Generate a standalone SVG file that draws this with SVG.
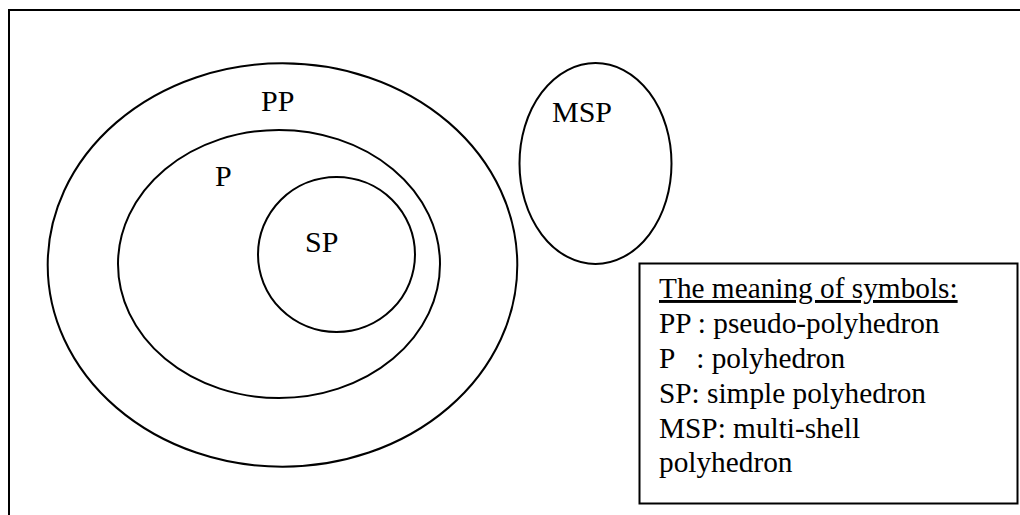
<svg xmlns="http://www.w3.org/2000/svg" width="1020" height="515" viewBox="0 0 1020 515">
  <style>
    .shape { fill: none; stroke: #000; stroke-width: 2; }
    .label { font-family: "Liberation Serif", "Times New Roman", serif; font-size: 30px; fill: #000; }
    .legend { font-family: "Liberation Serif", "Times New Roman", serif; font-size: 29.3px; fill: #000; }
  </style>
  <rect width="1020" height="515" fill="#fff"/>
  <!-- outer frame, running off the right and bottom edges -->
  <path class="shape" d="M9 515 V10 H1020"/>

  <g id="pp">
    <ellipse class="shape" cx="282.5" cy="265" rx="234.8" ry="201.7"/>
    <text class="label" x="261" y="110.5">PP</text>
  </g>
  <g id="p">
    <ellipse class="shape" cx="279" cy="264" rx="161" ry="134"/>
    <text class="label" x="215" y="185.5">P</text>
  </g>
  <g id="sp">
    <ellipse class="shape" cx="336.5" cy="254.5" rx="78.5" ry="77.5"/>
    <text class="label" x="305" y="252">SP</text>
  </g>
  <g id="msp">
    <ellipse class="shape" cx="595.5" cy="163.5" rx="76" ry="100.5"/>
    <text class="label" x="552" y="121.5">MSP</text>
  </g>

  <g id="legend">
    <rect class="shape" x="639.5" y="263.5" width="378" height="240"/>
    <text class="legend" x="659" y="298" text-decoration="underline">The meaning of symbols:</text>
    <text class="legend" x="659" y="333">PP : pseudo-polyhedron</text>
    <text class="legend" x="659" y="368" xml:space="preserve">P   : polyhedron</text>
    <text class="legend" x="659" y="403">SP: simple polyhedron</text>
    <text class="legend" x="659" y="438">MSP: multi-shell</text>
    <text class="legend" x="659" y="472">polyhedron</text>
  </g>

  <g id="connectors"/>
</svg>
